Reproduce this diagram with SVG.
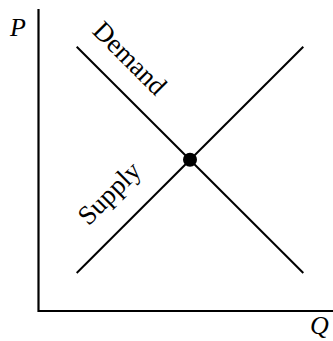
<svg xmlns="http://www.w3.org/2000/svg" width="333" height="341" viewBox="0 0 333 341">
<style>
.ln{stroke:#000;stroke-width:2;fill:none;stroke-linecap:butt}
.ax{stroke:#000;stroke-width:2.2;fill:none}
.lbl{font-family:"Liberation Serif","DejaVu Serif",serif;font-size:27px;fill:#000}
.it{font-style:italic;font-size:26px}
</style>
<rect width="333" height="341" fill="#fff"/>
<g id="axes">
<path class="ax" d="M38.5,9 V311 H333"/>
<text class="lbl it" x="10" y="36">P</text>
<text class="lbl it" x="310" y="334">Q</text>
</g>
<g id="curves">
<line id="demand" class="ln" x1="76.7" y1="46.7" x2="303.3" y2="273"/>
<line id="supply" class="ln" x1="76.7" y1="273" x2="303.3" y2="46.7"/>
</g>
<g id="equilibrium"><circle cx="190" cy="159.8" r="7" fill="#000"/></g>
<g id="labels">
<text class="lbl" text-anchor="middle" transform="translate(123.5,64.5) rotate(45)">Demand</text>
<text class="lbl" text-anchor="middle" transform="translate(115.5,199.5) rotate(-45)">Supply</text>
</g>
</svg>
